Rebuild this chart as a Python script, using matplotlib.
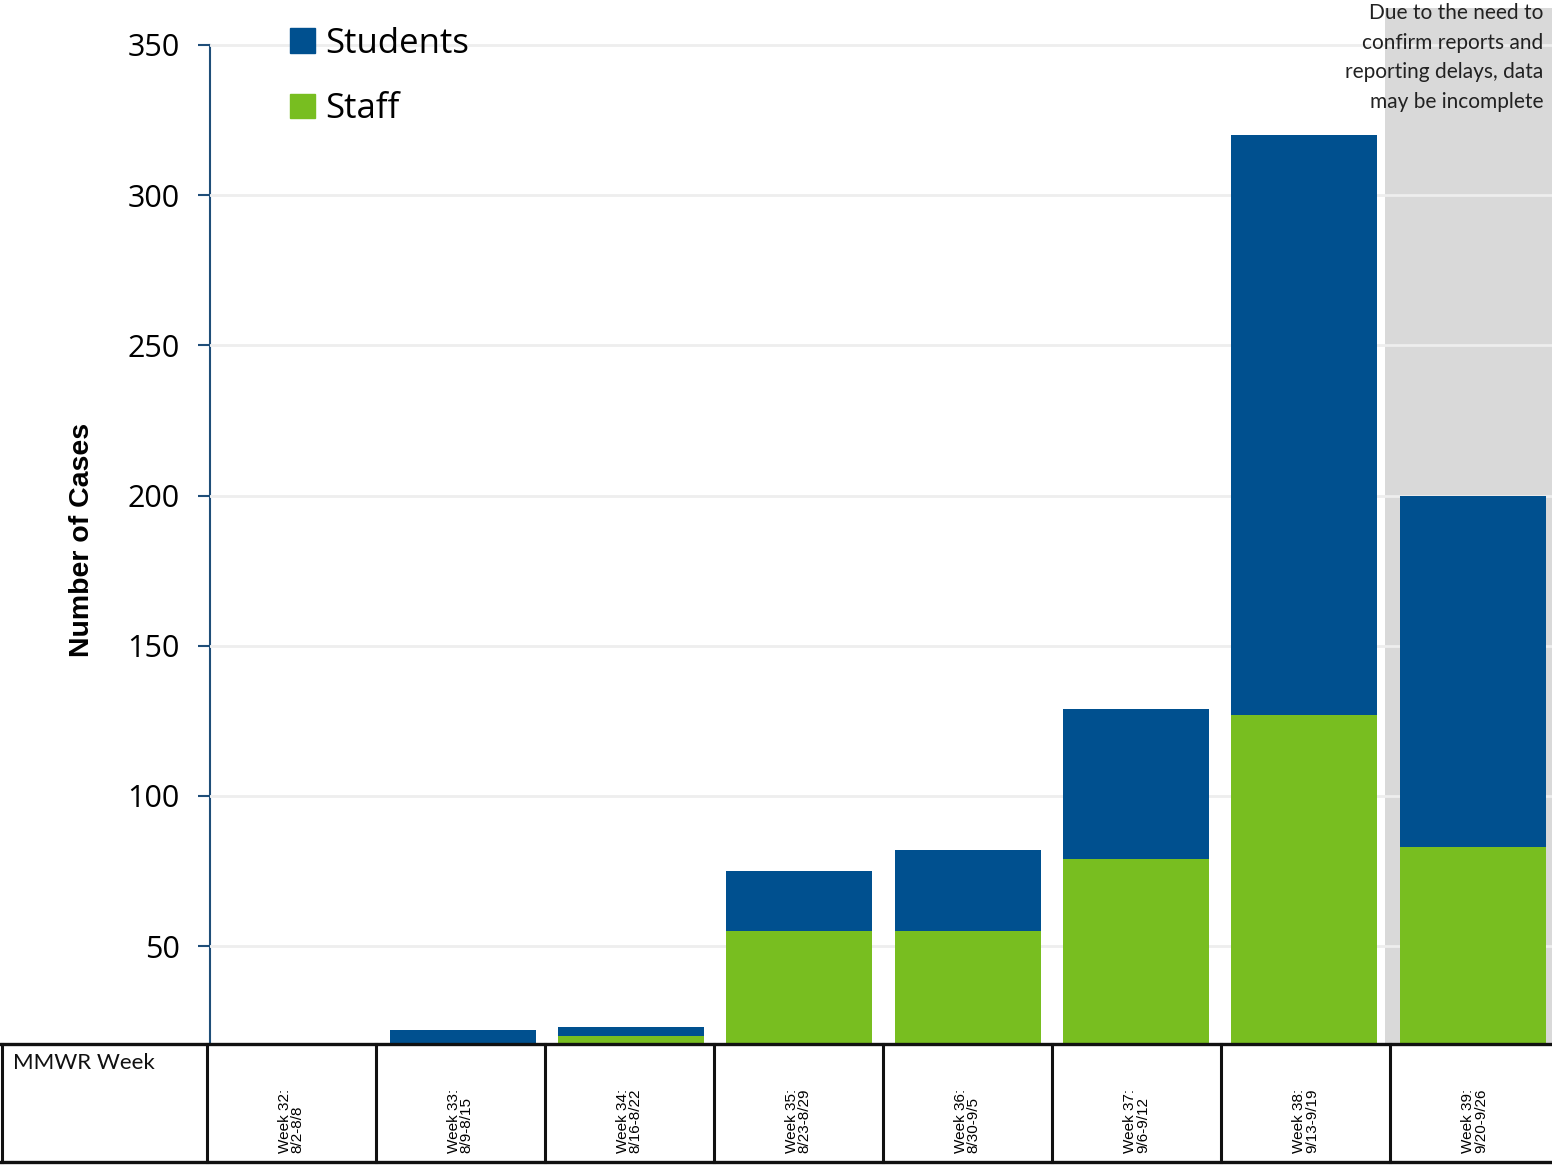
import matplotlib.pyplot as plt
from matplotlib import transforms
from matplotlib.patches import Patch
from matplotlib.lines import Line2D

weeks = ["Week 32:\n8/2-8/8", "Week 33:\n8/9-8/15", "Week 34:\n8/16-8/22",
         "Week 35:\n8/23-8/29", "Week 36:\n8/30-9/5", "Week 37:\n9/6-9/12",
         "Week 38:\n9/13-9/19", "Week 39:\n9/20-9/26"]
staff = [4, 15, 20, 55, 55, 79, 127, 83]
students = [3, 7, 3, 20, 27, 50, 193, 117]
yticks = [50, 100, 150, 200, 250, 300, 350]

blue = '#00508f'
green = '#78be20'
axis_blue = '#1f4e79'

W, H = 1552, 1168
fig = plt.figure(figsize=(W / 100, H / 100), dpi=100)
ax = fig.add_axes([210 / W, 1 - 1043 / H, 1 - 210 / W, 1043 / H])

x = list(range(len(weeks)))
ax.bar(x, staff, width=0.867, color=green, zorder=3)
ax.bar(x, students, width=0.867, bottom=staff, color=blue, zorder=3)

ax.set_xlim(-0.5, 7.47)
ax.set_ylim(17.8, 364.9)

# shaded "incomplete" region behind the last week
ax.axvspan(6.48, 8, ymax=0.992, color='#d9d9d9', zorder=0, lw=0)

ax.set_yticks(yticks)
ax.set_yticklabels([str(v) for v in yticks], fontsize=22, family='Open Sans')
ax.yaxis.grid(True, color='#eeeeee', lw=2, zorder=1)
ax.set_axisbelow(False)
ax.tick_params(axis='y', color=axis_blue, length=9, width=1.5, pad=13)
ax.set_xticks([])
for s in ['top', 'right', 'bottom']:
    ax.spines[s].set_visible(False)
ax.spines['left'].set_color(axis_blue)
ax.spines['left'].set_linewidth(1.5)
ax.spines['left'].set_bounds(17.8, 350)

fig.text(82 / W, 1 - 540 / H, 'Number of Cases', rotation=90, ha='center', va='center',
         fontsize=20.5, fontweight='bold', family='Liberation Sans')

# legend
handles = [Patch(color=blue, label='Students'), Patch(color=green, label='Staff')]
ax.legend(handles=handles, loc='upper left', bbox_to_anchor=(290 / W, 1 - 27 / H),
          bbox_transform=fig.transFigure, frameon=False, borderpad=0, borderaxespad=0,
          handlelength=0.72, handleheight=0.72, handletextpad=0.3, labelspacing=0.9,
          prop={'family': 'Open Sans', 'size': 25})

# note at top right
fig.text(1543 / W, 1 - 3 / H,
         'Due to the need to\nconfirm reports and\nreporting delays, data\nmay be incomplete',
         ha='right', va='top', fontsize=15, family='Lato',
         color='#222222', linespacing=1.6)

# table below the chart
tb = 1 - 1162 / H
tt = 1 - 1044 / H
fig.add_artist(Line2D([0, 1], [tt, tt], transform=fig.transFigure, color='#111111', lw=2.4))
fig.add_artist(Line2D([0, 1], [tb, tb], transform=fig.transFigure, color='#111111', lw=2.4))
fig.add_artist(Line2D([2 / W, 2 / W], [tb, tt], transform=fig.transFigure, color='#111111', lw=2.2))
blend = transforms.blended_transform_factory(ax.transData, fig.transFigure)
for i in range(len(weeks)):
    xb = i * 1.0036 - 0.5166
    fig.add_artist(Line2D([xb, xb], [tb, tt], transform=blend, color='#111111', lw=2.2))
    fig.text(xb + 0.5, 1 - 1153 / H, weeks[i], transform=blend, rotation=90, ha='center', va='bottom',
             fontsize=11, family='Liberation Sans', multialignment='left', linespacing=0.9)

fig.text(13 / W, 1 - 1063 / H, 'MMWR Week', ha='left', va='center', fontsize=16,
         family='Lato', color='#111111')

fig.savefig('out.png', dpi=100)
